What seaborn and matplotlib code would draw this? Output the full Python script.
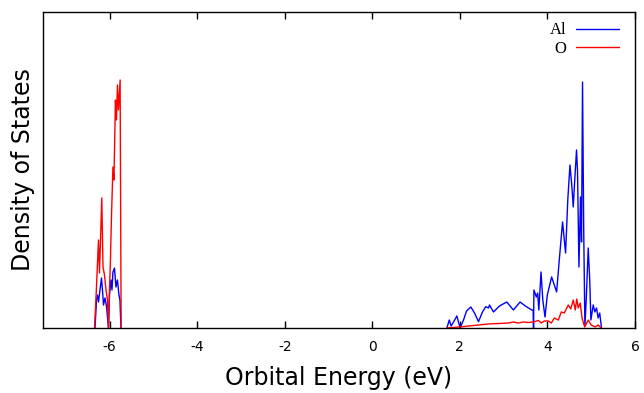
import matplotlib
matplotlib.use("Agg")
import matplotlib.pyplot as plt
import seaborn as sns
import pandas as pd

# Projected density of states for Al and O (arbitrary units)
# Valence band (below the gap)
al_val_energy = [-6.333, -6.298, -6.276, -6.253, -6.219, -6.185, -6.162, -6.139, -6.105,
                 -6.071, -6.025, -6.002, -5.968, -5.945, -5.923, -5.888, -5.854, -5.820,
                 -5.786, -5.763, -5.740]
al_val_dos = [0.0, 3.54, 4.18, 3.29, 4.81, 6.33, 4.81, 2.91, 3.80,
              2.78, 0.0, 4.18, 6.08, 4.81, 7.09, 7.59, 5.19, 6.08,
              4.18, 3.54, 0.0]

o_val_energy = [-6.344, -6.305, -6.253, -6.230, -6.178, -6.150, -6.116, -6.082, -6.048,
                -6.025, -5.995, -5.980, -5.957, -5.923, -5.900, -5.866, -5.843, -5.820,
                -5.797, -5.759, -5.747, -5.736]
o_val_dos = [0.0, 4.43, 11.14, 6.96, 16.46, 7.72, 6.71, 4.81, 3.54,
             0.0, 6.08, 8.61, 14.05, 20.38, 18.73, 28.86, 26.33, 30.76,
             27.59, 31.39, 14.94, 0.0]

# Conduction band (above the gap)
al_con_energy = [1.704, 1.759, 1.800, 1.856, 1.932, 2.005, 2.084, 2.153, 2.251, 2.335,
                 2.426, 2.517, 2.592, 2.654, 2.677, 2.768, 2.904, 3.071, 3.223, 3.376,
                 3.497, 3.640, 3.674, 3.683, 3.692, 3.724, 3.747, 3.777, 3.804, 3.854,
                 3.895, 3.945, 3.998, 4.096, 4.210, 4.271, 4.346, 4.415, 4.465, 4.515,
                 4.556, 4.590, 4.624, 4.665, 4.688, 4.720, 4.756, 4.779, 4.802, 4.829,
                 4.856, 4.886, 4.932, 4.966, 4.993, 5.046, 5.084, 5.121, 5.159, 5.194,
                 5.235]
al_con_dos = [0.0, 1.01, 0.25, 0.76, 1.52, 0.0, 1.01, 2.15, 2.66, 1.90,
              0.80, 2.03, 2.70, 2.53, 2.91, 2.03, 2.78, 3.29, 2.28, 3.29,
              2.78, 2.28, 2.28, 0.0, 4.81, 4.30, 3.92, 4.43, 2.28, 7.09,
              3.54, 1.39, 4.18, 6.46, 4.56, 8.61, 13.42, 9.49, 16.20, 20.63,
              18.10, 15.32, 18.73, 22.53, 19.75, 7.72, 16.58, 10.89, 31.14, 12.41,
              0.25, 3.54, 10.13, 6.08, 1.01, 2.91, 2.03, 2.53, 1.27, 1.90,
              0.0]

o_con_energy = [1.697, 1.993, 2.198, 2.426, 2.654, 2.882, 3.109, 3.223, 3.337, 3.451,
                3.565, 3.679, 3.793, 3.861, 3.929, 4.021, 4.089, 4.158, 4.249, 4.317,
                4.385, 4.476, 4.533, 4.590, 4.636, 4.670, 4.704, 4.749, 4.795, 4.852,
                4.932, 5.000, 5.091, 5.159, 5.228]
o_con_dos = [0.0, 0.13, 0.25, 0.38, 0.51, 0.57, 0.63, 0.76, 0.63, 0.76,
             0.70, 0.76, 0.95, 0.63, 0.89, 0.89, 0.63, 1.27, 1.01, 2.03,
             1.90, 2.91, 2.41, 3.54, 2.28, 3.67, 2.53, 3.16, 1.14, 0.13,
             1.01, 0.38, 0.13, 0.38, 0.0]

x_ticks = [-6, -4, -2, 0, 2, 4, 6]

sns.set_style("white")
plt.rcParams["font.family"] = ["DejaVu Sans"]
plt.rcParams["text.color"] = "black"
plt.rcParams["axes.labelcolor"] = "black"

fig = plt.figure(figsize=(6.44, 3.93), dpi=100)
ax = fig.add_axes([0.0668, 0.1654, 0.9192, 0.8041])

segments = [
    ("Al", "#0000ff", al_val_energy, al_val_dos, True),
    ("Al", "#0000ff", al_con_energy, al_con_dos, False),
    ("O", "#ff0000", o_val_energy, o_val_dos, True),
    ("O", "#ff0000", o_con_energy, o_con_dos, False),
]
for name, color, e, d, labelled in segments:
    df = pd.DataFrame({"energy": e, "dos": d})
    sns.lineplot(data=df, x="energy", y="dos", color=color, lw=1.0,
                 estimator=None, sort=False, ax=ax,
                 label=name if labelled else None)

ax.set_xlim(-7.52, 5.97)
ax.set_ylim(0, 40)
ax.set_xticks(x_ticks)
ax.set_xticklabels([str(t) for t in x_ticks], fontsize=10, color="black")
ax.set_yticks([])
ax.tick_params(axis="x", direction="in", length=5, width=1, top=True,
               bottom=True, pad=9, colors="black")
for sp in ax.spines.values():
    sp.set_visible(True)
    sp.set_color("black")
    sp.set_linewidth(1.0)

ax.set_xlabel("Orbital Energy (eV)", fontsize=17, labelpad=8, color="black")
ax.set_ylabel("Density of States", fontsize=17, labelpad=6, color="black")

leg = ax.legend(loc="upper right", bbox_to_anchor=(0.985, 0.988), frameon=False,
                markerfirst=False, handlelength=2.6, handletextpad=0.6,
                labelspacing=0.15, borderaxespad=0.0,
                prop={"family": "Liberation Serif", "size": 12})
for t in leg.get_texts():
    t.set_color("black")

fig.savefig("out.png", dpi=100)
